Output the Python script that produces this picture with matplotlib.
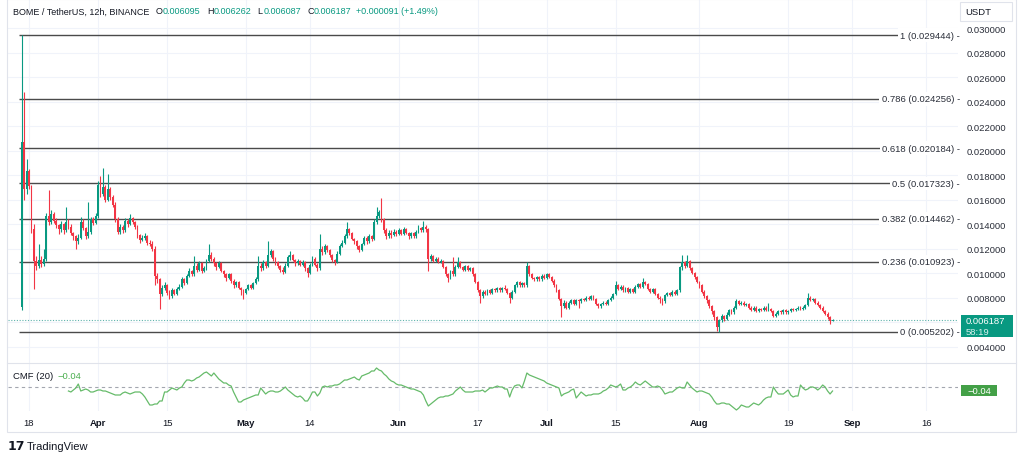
import matplotlib
matplotlib.use("Agg")
import matplotlib.pyplot as plt
import matplotlib.dates as mdates
from matplotlib.patches import Rectangle
from matplotlib.lines import Line2D
from matplotlib.transforms import blended_transform_factory
import numpy as np
import pandas as pd

plt.rcParams['font.family'] = ['Liberation Sans', 'DejaVu Sans']

SYMBOL = "BOME / TetherUS, 12h, BINANCE"
START = "2024-03-16 12:00"
COUNTDOWN = "58:19"

# 12h candles, prices in units of 0.00001 USDT (10 candles per row)
opens = [
    724, 2071, 1687, 1834, 1711, 1360, 1100, 1060, 1110, 1075,
    1120, 1467, 1420, 1480, 1430, 1390, 1360, 1400, 1350, 1420,
    1380, 1330, 1300, 1260, 1290, 1420, 1370, 1300, 1340, 1440,
    1410, 1470, 1720, 1650, 1700, 1600, 1690, 1620, 1560, 1440,
    1340, 1380, 1350, 1430, 1400, 1450, 1420, 1380, 1310, 1270,
    1290, 1300, 1250, 1240, 1200, 980, 950, 830, 880, 900,
    840, 810, 860, 830, 870, 890, 950, 920, 980, 1020,
    990, 1060, 1030, 1080, 1020, 1040, 1100, 1150, 1120, 1080,
    1050, 1080, 1020, 990, 960, 990, 940, 900, 930, 880,
    860, 840, 870, 900, 880, 920, 950, 1060, 1040, 1090,
    1060, 1150, 1180, 1120, 1090, 1060, 1030, 1010, 1060, 1130,
    1150, 1110, 1080, 1100, 1070, 1090, 1040, 1000, 1070, 1120,
    1070, 1040, 1200, 1170, 1220, 1190, 1150, 1110, 1090, 1160,
    1220, 1250, 1300, 1360, 1330, 1280, 1260, 1220, 1190, 1240,
    1290, 1260, 1300, 1280, 1420, 1470, 1500, 1440, 1350, 1300,
    1330, 1310, 1340, 1320, 1350, 1320, 1360, 1330, 1300, 1330,
    1300, 1340, 1370, 1350, 1380, 1360, 1120, 1140, 1100, 1120,
    1090, 1100, 1050, 990, 960, 1020, 990, 1050, 1090, 1050,
    1030, 1060, 1030, 1040, 990, 930, 860, 810, 850, 830,
    860, 840, 870, 860, 880, 860, 880, 870, 840, 800,
    850, 900, 930, 900, 920, 900, 1060, 990, 960, 950,
    970, 950, 980, 960, 990, 970, 940, 900, 860, 790,
    730, 760, 720, 760, 780, 750, 780, 770, 790, 780,
    800, 790, 810, 790, 750, 730, 750, 760, 750, 780,
    800, 830, 900, 870, 890, 860, 880, 850, 870, 850,
    890, 910, 890, 930, 910, 870, 850, 870, 830, 800,
    790, 770, 820, 840, 820, 850, 830, 860, 1050, 1090,
    1060, 1100, 1040, 1000, 970, 930, 900, 850, 810, 780,
    730, 690, 640, 560, 620, 650, 630, 660, 700, 680,
    720, 770, 750, 760, 740, 750, 720, 700, 720, 690,
    710, 700, 720, 700, 710, 690, 650, 670, 690, 680,
    700, 680, 690, 710, 700, 710, 720, 710, 720, 740,
    800, 780, 790, 760, 740, 720, 690, 670, 640, 609.5,
]
highs = [
    2944.4, 2479, 1932, 1850, 1720, 1400, 1140, 1240, 1140, 1200,
    1490, 1679, 1520, 1500, 1450, 1400, 1430, 1410, 1540, 1440,
    1400, 1340, 1310, 1320, 1460, 1440, 1380, 1580, 1460, 1460,
    1490, 1750, 1790, 1858, 1720, 1810, 1700, 1640, 1580, 1460,
    1400, 1390, 1450, 1440, 1480, 1460, 1430, 1390, 1320, 1310,
    1330, 1310, 1270, 1260, 1220, 1000, 960, 900, 930, 910,
    860, 880, 870, 890, 910, 970, 960, 990, 1040, 1030,
    1140, 1080, 1100, 1090, 1060, 1120, 1240, 1170, 1130, 1090,
    1100, 1090, 1030, 1000, 1000, 1000, 950, 940, 940, 890,
    870, 880, 910, 910, 930, 970, 1140, 1080, 1110, 1100,
    1260, 1200, 1190, 1130, 1100, 1070, 1050, 1080, 1150, 1180,
    1160, 1120, 1120, 1110, 1110, 1100, 1050, 1080, 1140, 1130,
    1080, 1320, 1220, 1240, 1230, 1200, 1160, 1120, 1180, 1240,
    1270, 1320, 1420, 1370, 1340, 1290, 1270, 1230, 1250, 1300,
    1300, 1320, 1310, 1440, 1540, 1520, 1610, 1450, 1370, 1350,
    1350, 1360, 1350, 1370, 1360, 1380, 1370, 1340, 1340, 1340,
    1350, 1390, 1380, 1430, 1390, 1370, 1160, 1150, 1130, 1130,
    1120, 1110, 1060, 1000, 1030, 1130, 1070, 1130, 1100, 1060,
    1070, 1070, 1050, 1050, 1000, 940, 870, 860, 860, 870,
    870, 880, 880, 890, 890, 890, 900, 880, 850, 860,
    910, 940, 940, 930, 930, 1090, 1070, 1000, 970, 980,
    980, 990, 990, 1000, 1000, 980, 950, 910, 870, 800,
    780, 770, 770, 790, 790, 790, 790, 800, 800, 810,
    810, 820, 820, 800, 760, 760, 770, 770, 790, 810,
    840, 940, 910, 900, 900, 890, 890, 880, 880, 900,
    920, 920, 960, 940, 920, 880, 880, 880, 840, 810,
    800, 830, 850, 850, 860, 860, 870, 1060, 1150, 1100,
    1150, 1110, 1050, 1010, 980, 940, 910, 860, 820, 790,
    740, 700, 650, 630, 670, 660, 680, 710, 710, 730,
    790, 780, 770, 770, 760, 760, 730, 730, 730, 720,
    720, 730, 730, 760, 720, 700, 680, 700, 700, 710,
    710, 700, 720, 720, 720, 730, 730, 730, 750, 840,
    810, 800, 800, 770, 750, 730, 700, 680, 650, 626.2,
]
lows = [
    700, 1600, 1650, 1690, 1330, 871, 1030, 1040, 1050, 1060,
    1100, 1390, 1400, 1410, 1370, 1320, 1340, 1320, 1340, 1360,
    1310, 1270, 1200, 1240, 1280, 1350, 1280, 1290, 1320, 1390,
    1400, 1450, 1620, 1630, 1580, 1590, 1600, 1540, 1420, 1320,
    1320, 1330, 1340, 1380, 1390, 1400, 1360, 1290, 1250, 1260,
    1270, 1230, 1220, 1180, 900, 920, 707, 810, 860, 820,
    790, 800, 820, 820, 860, 880, 900, 910, 970, 980,
    980, 1010, 1020, 1000, 1010, 1030, 1090, 1100, 1060, 1030,
    1040, 1010, 970, 940, 950, 920, 880, 890, 870, 820,
    790, 830, 860, 870, 870, 910, 940, 1020, 1030, 1040,
    1050, 1130, 1100, 1070, 1040, 1010, 990, 1000, 1050, 1110,
    1100, 1060, 1070, 1060, 1060, 1020, 970, 990, 1060, 1060,
    1020, 1030, 1150, 1160, 1170, 1130, 1090, 1070, 1080, 1150,
    1210, 1240, 1290, 1310, 1270, 1240, 1200, 1170, 1180, 1230,
    1240, 1250, 1260, 1270, 1400, 1450, 1420, 1330, 1280, 1290,
    1290, 1300, 1300, 1310, 1310, 1310, 1320, 1280, 1290, 1290,
    1290, 1330, 1340, 1340, 1340, 1020, 1100, 1090, 1090, 1080,
    1080, 1040, 980, 930, 950, 980, 980, 1040, 1040, 1020,
    1020, 1020, 1020, 980, 920, 850, 760, 800, 820, 820,
    830, 830, 850, 850, 850, 850, 860, 830, 760, 790,
    840, 890, 890, 890, 890, 890, 980, 950, 940, 940,
    940, 940, 950, 950, 960, 930, 890, 850, 780, 640,
    720, 710, 710, 750, 740, 740, 720, 760, 770, 770,
    780, 780, 780, 740, 720, 720, 740, 740, 740, 770,
    790, 820, 860, 860, 850, 850, 840, 840, 840, 840,
    880, 880, 880, 900, 860, 840, 840, 820, 790, 760,
    740, 760, 810, 810, 810, 820, 820, 850, 1030, 1040,
    1050, 1030, 990, 950, 920, 880, 840, 800, 760, 720,
    670, 620, 530, 520.2, 600, 610, 620, 650, 670, 670,
    710, 740, 740, 730, 730, 710, 690, 690, 680, 680,
    690, 690, 690, 690, 680, 640, 640, 660, 670, 670,
    670, 670, 680, 690, 690, 700, 700, 700, 710, 730,
    770, 770, 750, 730, 710, 680, 660, 630, 585, 608.7,
]
closes = [
    2071, 1687, 1834, 1711, 1360, 1100, 1060, 1110, 1075, 1120,
    1467, 1420, 1480, 1430, 1390, 1360, 1400, 1350, 1420, 1380,
    1330, 1300, 1260, 1290, 1420, 1370, 1300, 1340, 1440, 1410,
    1470, 1720, 1650, 1700, 1600, 1690, 1620, 1560, 1440, 1340,
    1380, 1350, 1430, 1400, 1450, 1420, 1380, 1310, 1270, 1290,
    1300, 1250, 1240, 1200, 980, 950, 830, 880, 900, 840,
    810, 860, 830, 870, 890, 950, 920, 980, 1020, 990,
    1060, 1030, 1080, 1020, 1040, 1100, 1150, 1120, 1080, 1050,
    1080, 1020, 990, 960, 990, 940, 900, 930, 880, 860,
    840, 870, 900, 880, 920, 950, 1060, 1040, 1090, 1060,
    1150, 1180, 1120, 1090, 1060, 1030, 1010, 1060, 1130, 1150,
    1110, 1080, 1100, 1070, 1090, 1040, 1000, 1070, 1120, 1070,
    1040, 1200, 1170, 1220, 1190, 1150, 1110, 1090, 1160, 1220,
    1250, 1300, 1360, 1330, 1280, 1260, 1220, 1190, 1240, 1290,
    1260, 1300, 1280, 1420, 1470, 1500, 1440, 1350, 1300, 1330,
    1310, 1340, 1320, 1350, 1320, 1360, 1330, 1300, 1330, 1300,
    1340, 1370, 1350, 1380, 1360, 1120, 1140, 1100, 1120, 1090,
    1100, 1050, 990, 960, 1020, 990, 1050, 1090, 1050, 1030,
    1060, 1030, 1040, 990, 930, 860, 810, 850, 830, 860,
    840, 870, 860, 880, 860, 880, 870, 840, 800, 850,
    900, 930, 900, 920, 900, 1060, 990, 960, 950, 970,
    950, 980, 960, 990, 970, 940, 900, 860, 790, 730,
    760, 720, 760, 780, 750, 780, 770, 790, 780, 800,
    790, 810, 790, 750, 730, 750, 760, 750, 780, 800,
    830, 900, 870, 890, 860, 880, 850, 870, 850, 890,
    910, 890, 930, 910, 870, 850, 870, 830, 800, 790,
    770, 820, 840, 820, 850, 830, 860, 1050, 1090, 1060,
    1100, 1040, 1000, 970, 930, 900, 850, 810, 780, 730,
    690, 640, 560, 620, 650, 630, 660, 700, 680, 720,
    770, 750, 760, 740, 750, 720, 700, 720, 690, 710,
    700, 720, 700, 710, 690, 650, 670, 690, 680, 700,
    680, 690, 710, 700, 710, 720, 710, 720, 740, 800,
    780, 790, 760, 740, 720, 690, 670, 640, 609.6, 618.7,
]

# CMF(20), in hundredths, starting at the 20th candle
cmf_first = 19
cmf = [
    -4, -5, -3, -1, 3, -4, -3, -2, -3, -5,
    -5, -4, -3, -3, -4, -4, -5, -6, -7, -8,
    -8, -8, -6, -5, -6, -7, -6, -5, -5, -5,
    -7, -10, -14, -18, -18, -17, -17, -14, -14, -5,
    -5, -3, -1, -2, -3, -1, 0, 4, 7, 7,
    6, 7, 9, 10, 12, 14, 15, 13, 11, 14,
    11, 8, 6, 4, 4, 2, 1, -5, -10, -15,
    -15, -13, -12, -11, -10, -9, -8, -8, -1, -4,
    -7, -5, -4, -4, -5, -5, -4, -2, 0, -3,
    -5, -7, -9, -10, -9, -11, -14, -14, -10, -5,
    -5, -9, -6, 0, 1, 0, 1, 1, 2, 2,
    3, 5, 7, 7, 8, 9, 10, 8, 7, 11,
    12, 13, 14, 16, 16, 19, 17, 16, 13, 11,
    8, 6, 5, 3, 2, 2, 1, 0, -1, -2,
    -2, -3, -4, -5, -8, -14, -19, -17, -15, -13,
    -11, -10, -10, -9, -9, -8, -7, -4, -2, 0,
    -3, -5, -5, -5, -5, -4, -4, -4, -3, -5,
    -3, -1, -1, 0, 1, 0, 0, -2, -2, -10,
    -3, 1, 2, 2, -1, 6, 14, 12, 11, 10,
    9, 8, 7, 6, 4, 3, 2, 1, 0, -1,
    -9, -7, -6, -5, -3, -2, -11, -8, -5, -7,
    -9, -8, -8, -7, -7, -7, -6, -4, -3, -1,
    2, 1, 0, 1, 3, -3, -3, -1, 0, 2,
    5, 3, 2, 4, 6, 4, 2, 0, 0, 1,
    0, -3, -7, -6, -5, -5, -3, -1, 0, -1,
    -1, 5, 2, -1, -3, -5, -4, -4, -5, -6,
    -7, -10, -14, -17, -17, -16, -16, -17, -17, -19,
    -21, -23, -21, -18, -19, -20, -20, -18, -16, -17,
    -18, -16, -13, -11, -10, -10, 0, -4, -7, -7,
    -7, -5, -3, -8, -10, -9, -9, 2, -1, -3,
    -2, 0, 0, -1, -3, -1, 2, 0, -4, -7,
    -4,
]

fib_ratios = [1, 0.786, 0.618, 0.5, 0.382, 0.236, 0]
price_ticks = [0.004, 0.006, 0.008, 0.010, 0.012, 0.014, 0.016, 0.018,
               0.020, 0.022, 0.024, 0.026, 0.028, 0.030]
tick_dates = ["2024-03-18", "2024-04-01", "2024-04-15", "2024-05-01", "2024-05-14",
              "2024-06-01", "2024-06-17", "2024-07-01", "2024-07-15", "2024-08-01",
              "2024-08-19", "2024-09-01", "2024-09-16"]
tick_labels = ["18", "Apr", "15", "May", "14", "Jun", "17", "Jul", "15", "Aug", "19", "Sep", "16"]

UP = "#089981"
DOWN = "#f23645"
DARK = "#131722"
GRID = "#f0f3fa"
CMF_GREEN = "#4caf50"
FS = 6.8

W, H = 1024, 456
def fx(px):
    return px / W
def fy(py):
    return 1 - py / H

fig = plt.figure(figsize=(W / 100, H / 100), dpi=100)
fig.patch.set_facecolor("white")

t = mdates.date2num(pd.date_range(START, periods=len(closes), freq="12h"))
o, h, l, c = (np.array(v) * 1e-5 for v in (opens, highs, lows, closes))
xlim = (t[0] - 2.76, t[0] + 189.95)
ticks_x = mdates.date2num(pd.to_datetime(tick_dates))

# main price pane
ax = fig.add_axes([fx(8), fy(364), fx(958) - fx(8), 363 / H])
ax.set_xlim(*xlim)
ax.set_ylim(0.002671, 0.032301)
for s in ax.spines.values():
    s.set_visible(False)
ax.set_xticks(ticks_x)
ax.tick_params(axis="x", length=0, labelbottom=False)
ax.yaxis.tick_right()
ax.set_yticks(price_ticks)
# the 0.006 label sits under the last-price box, as in TradingView
ax.set_yticklabels(["" if abs(v - 0.006) < 1e-9 else f"{v:.6f}" for v in price_ticks])
ax.tick_params(axis="y", length=0, pad=6.5, labelsize=FS, labelcolor="#2a2e39")
ax.grid(True, color=GRID, lw=0.8)
ax.set_axisbelow(True)

colors = np.where(c >= o, UP, DOWN)
ax.vlines(t, l, h, colors=colors, lw=0.8, zorder=3)
ax.bar(t, np.maximum(np.abs(c - o), 0.00003), bottom=np.minimum(o, c),
       width=0.38, color=colors, lw=0, zorder=3)

# fibonacci retracement
hi, lo = h.max(), l.min()
trans = blended_transform_factory(ax.transAxes, ax.transData)
for r in fib_ratios:
    lvl = lo + r * (hi - lo)
    ax.hlines(lvl, t[0] - 0.5, xlim[1], color="#4a4a4a", lw=1.0, zorder=2)
    ax.text((960 - 8) / 950, lvl, f"{r:g} ({lvl:.6f}) -", transform=trans,
            ha="right", va="center", fontsize=FS, color="#2a2e39", zorder=5,
            bbox=dict(fc="white", ec="none", pad=1.8))

# last price line
ax.axhline(c[-1], color="#5fb3ab", ls=(0, (1, 1.5)), lw=0.8, zorder=2)

# CMF pane
cax = fig.add_axes([fx(8), fy(412), fx(958) - fx(8), 48 / H])
cax.set_xlim(*xlim)
cax.set_ylim(-0.24, 0.24)
for s in cax.spines.values():
    s.set_visible(False)
cax.set_yticks([])
cax.set_xticks(ticks_x)
cax.set_xticklabels(tick_labels)
cax.tick_params(axis="x", length=0, pad=4.7, labelsize=FS, labelcolor=DARK)
for lab in cax.get_xticklabels():
    if not lab.get_text().isdigit():
        lab.set_fontweight("bold")
cax.grid(True, axis="x", color=GRID, lw=0.8)
cax.set_axisbelow(True)
cax.axhline(0, color="#a3a6af", ls=(0, (3, 3)), lw=0.8)
cax.plot(t[cmf_first:], np.array(cmf) / 100, color="#66bb6a", lw=0.9)

# frame and separators
fig.add_artist(Rectangle((fx(7), fy(433)), fx(1016) - fx(7), 433 / H,
                         transform=fig.transFigure, fill=False, ec="#e0e3eb", lw=0.8))
fig.add_artist(Line2D([fx(7), fx(1016)], [fy(364), fy(364)], color="#e0e3eb", lw=0.8))

# header, each piece placed right after the previous one
green_txt = "#089981"
header = [
    ("O", DARK, 4.5), (f"{o[-1]:.6f}", green_txt, 0.3),
    ("H", DARK, 4.5), (f"{h[-1]:.6f}", green_txt, 0.3),
    ("L", DARK, 4.5), (f"{l[-1]:.6f}", green_txt, 0.3),
    ("C", DARK, 4.5), (f"{c[-1]:.6f}", green_txt, 0.3),
    (f"+{c[-1] - c[-2]:.6f} (+{(c[-1] - c[-2]) / c[-2] * 100:.2f}%)", green_txt, 3.5),
]
HFS = 6.5
last = fig.text(fx(13), fy(12), SYMBOL, fontsize=HFS, color=DARK, ha="left", va="center")
for txt, col, gap in header:
    last = ax.annotate(txt, xy=(1, 0.5), xycoords=last, xytext=(gap, 0),
                       textcoords="offset points", fontsize=HFS, color=col,
                       ha="left", va="center", annotation_clip=False)

# USDT box
fig.add_artist(Rectangle((fx(960), fy(22)), fx(1012) - fx(960), 19 / H,
                         transform=fig.transFigure, fill=False, ec="#e0e3eb", lw=0.8))
fig.text(fx(965), fy(12.5), "USDT", fontsize=FS, color=DARK, ha="left", va="center")

# last price box
fig.add_artist(Rectangle((fx(961), fy(338)), fx(1013) - fx(961), 22 / H,
                         transform=fig.transFigure, color=UP, lw=0))
fig.text(fx(966), fy(322), f"{c[-1]:.6f}", fontsize=FS, color="white", ha="left", va="center")
fig.text(fx(966), fy(332.5), COUNTDOWN, fontsize=FS, color="#d6f0ec", ha="left", va="center")

# CMF labels
fig.text(fx(13), fy(377), "CMF (20)", fontsize=FS, color=DARK, ha="left", va="center")
fig.text(fx(58), fy(377), f"\u2212{abs(cmf[-1]) / 100:.2f}", fontsize=FS,
         color=CMF_GREEN, ha="left", va="center")
fig.add_artist(Rectangle((fx(961), fy(397)), fx(997) - fx(961), 11 / H,
                         transform=fig.transFigure, color="#43a047", lw=0))
fig.text(fx(979), fy(391.5), f"\u2212{abs(cmf[-1]) / 100:.2f}", fontsize=FS,
         color="white", ha="center", va="center")

# TradingView mark
fig.text(fx(8), fy(447), "17", fontsize=9, fontweight="bold", color=DARK,
         ha="left", va="center", family="DejaVu Sans")
fig.text(fx(27), fy(447), "TradingView", fontsize=8, color=DARK, ha="left", va="center")

fig.savefig("out.png", dpi=100, facecolor="white")
